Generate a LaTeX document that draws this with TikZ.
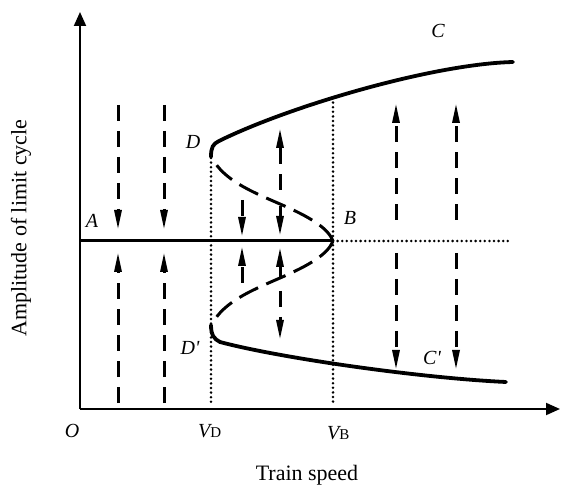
\documentclass[tikz,border=0pt]{standalone}
\usepackage{fontspec}
\setmainfont{Liberation Serif}[Ligatures=TeXOff]
\usetikzlibrary{arrows.meta}
\begin{document}
\begin{tikzpicture}[x=1pt,y=-1pt,
  axis/.style={line width=2pt,-{Triangle[length=14pt,width=12pt]}},
  solidcurve/.style={line width=3.8pt, line cap=round},
  baseline/.style={line width=3pt},
  dotline/.style={line width=2.8pt, dash pattern=on 0pt off 4.6pt, line cap=round},
  dashcurve/.style={line width=3pt, dash pattern=on 21pt off 9pt},
  flow/.style={line width=3pt, dash pattern=on 16pt off 10pt, -{Triangle[length=20pt,width=7pt]}},
  lbl/.style={font=\fontsize{20}{24}\selectfont\itshape, inner sep=0pt},
  axlbl/.style={font=\fontsize{22}{26}\selectfont, inner sep=0pt}]
\useasboundingbox (0,0) rectangle (565,486);
% key points
\coordinate (O) at (80,409);
\coordinate (Ytip) at (80,12);
\coordinate (Xtip) at (560,409);
\coordinate (Astart) at (80,241);
\coordinate (B) at (333,241);
\coordinate (Bend) at (510,241);
\coordinate (D) at (211,157);
\coordinate (Dp) at (211,325);
\coordinate (VDtop) at (211,158);
\coordinate (VDbot) at (211,406);
\coordinate (VBtop) at (333,98);
\coordinate (VBbot) at (333,406);
% dotted guide lines
\draw[dotline] (VDtop) -- (VDbot);
\draw[dotline] (VBtop) -- (VBbot);
\draw[dotline] (B) -- (Bend);
% axes
\draw[axis] (O) -- (Ytip);
\draw[axis] (O) -- (Xtip);
% stable trivial branch
\draw[baseline] (Astart) -- (B);
% unstable branches (drawn from B towards D and D')
\draw[dashcurve, line join=round] (B) .. controls (328,228) and (310,217) .. (280,204)
  .. controls (250,191) and (224,180) .. (212,158);
\draw[dashcurve, line join=round] (B) .. controls (328,254) and (310,265) .. (280,278)
  .. controls (250,291) and (224,302) .. (212,324);
% stable limit cycle branches
\draw[solidcurve] (D) .. controls (211,147) and (213,144) .. (219,141)
  .. controls (290,106) and (433,64) .. (513,62);
\draw[solidcurve] (Dp) .. controls (211,335) and (214,339) .. (220,342)
  .. controls (280,358) and (420,378) .. (506,382);
% flow arrows
\foreach \x in {118,164}{
  \draw[flow] (\x,105) -- (\x,230);
  \draw[flow] (\x,403) -- (\x,252);
}
\draw[flow] (242,200) -- (242,237);
\draw[flow] (242,283) -- (242,246);
\draw[flow] (280,190) -- (280,128);
\draw[flow] (280,206) -- (280,236);
\draw[flow] (280,279) -- (280,247);
\draw[flow] (280,291) -- (280,340);
\foreach \x in {396,456}{
  \draw[flow] (\x,220) -- (\x,103);
  \draw[flow] (\x,253) -- (\x,370);
}
% labels
\node[lbl] (lA) at (92,221) {A};
\node[lbl] (lD) at (193,142) {D};
\node[lbl] (lB) at (350,218) {B};
\node[lbl] (lDp) at (190,348) {D'};
\node[lbl] (lC) at (438,31) {C};
\node[lbl] (lCp) at (432,358) {C'};
\node[lbl, anchor=base] (lO) at (72,437) {O};
\node[inner sep=0pt, anchor=base west] (lVD) at (198,437) {{\fontsize{20}{24}\selectfont\itshape V}{\fontsize{15}{18}\selectfont D}};
\node[inner sep=0pt, anchor=base west] (lVB) at (327,439) {{\fontsize{20}{24}\selectfont\itshape V}{\fontsize{15}{18}\selectfont B}};
\node[axlbl, anchor=base] (xlab) at (307,480) {Train speed};
\node[axlbl, rotate=90] (ylab) at (21,228) {Amplitude of limit cycle};
\end{tikzpicture}
\end{document}
